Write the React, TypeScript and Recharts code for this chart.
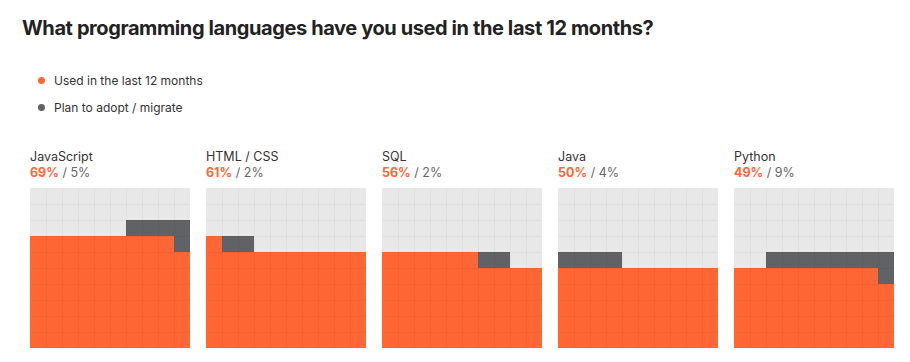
import React from 'react';
import { ScatterChart, Scatter, XAxis, YAxis } from 'recharts';

const title = 'What programming languages have you used in the last 12 months?';
const languages = ['JavaScript', 'HTML / CSS', 'SQL', 'Java', 'Python'];
const usedPct = [69, 61, 56, 50, 49];
const planPct = [5, 2, 2, 4, 9];
const legendLabels = ['Used in the last 12 months', 'Plan to adopt / migrate'];

const ORANGE = '#ff6633';
const DARK = '#616266';
const EMPTY = '#e8e8e8';
const FONT = 'Inter, "Noto Sans", sans-serif';

const PANEL = 160;
const CELL = PANEL / 10;

type Pt = { x: number; y: number; row: number; col: number };

function buildCells(used: number, plan: number) {
  const grid: string[] = new Array(100).fill('empty');
  for (let i = 0; i < used; i++) grid[i] = 'used';
  let g = plan;
  const r = Math.floor(used / 10);
  let c = used % 10;
  while (g > 0 && c < 10) {
    grid[r * 10 + c] = 'plan';
    c++;
    g--;
  }
  if (g > 0) {
    for (let k = 10 - g; k < 10; k++) grid[(r + 1) * 10 + k] = 'plan';
  }
  const out: Record<string, Pt[]> = { used: [], plan: [], empty: [] };
  grid.forEach((kind, i) => {
    const row = Math.floor(i / 10);
    const col = i % 10;
    out[kind].push({ x: col + 0.5, y: row + 0.5, row, col });
  });
  return out;
}

const makeShape = (fill: string) => (props: any) => {
  const { cx, cy, payload } = props;
  if (cx == null || cy == null) return <g />;
  const h = CELL / 2;
  return (
    <g>
      <rect x={cx - h} y={cy - h} width={CELL} height={CELL} fill={fill} />
      {payload.col > 0 && <rect x={cx - h} y={cy - h} width={1} height={CELL} fill="rgba(0,0,0,0.03)" />}
      {payload.row < 9 && <rect x={cx - h} y={cy - h} width={CELL} height={1} fill="rgba(0,0,0,0.03)" />}
    </g>
  );
};

function Waffle({ used, plan }: { used: number; plan: number }) {
  const cells = buildCells(used, plan);
  return (
    <ScatterChart width={PANEL} height={PANEL} margin={{ top: 0, right: 0, bottom: 0, left: 0 }}>
      <XAxis type="number" dataKey="x" domain={[0, 10]} hide />
      <YAxis type="number" dataKey="y" domain={[0, 10]} hide />
      <Scatter data={cells.empty} shape={makeShape(EMPTY)} isAnimationActive={false} />
      <Scatter data={cells.used} shape={makeShape(ORANGE)} isAnimationActive={false} />
      <Scatter data={cells.plan} shape={makeShape(DARK)} isAnimationActive={false} />
    </ScatterChart>
  );
}

export default function App() {
  return (
    <div style={{ position: 'absolute', left: 0, top: 0, width: 910, height: 362, background: '#fff', fontFamily: FONT }}>
      <div
        style={{
          position: 'absolute', left: 22, top: 14, fontSize: 20, fontWeight: 700, color: '#222',
          lineHeight: '28px', whiteSpace: 'nowrap', letterSpacing: -0.4,
        }}
      >
        {title}
      </div>
      {legendLabels.map((l, i) => (
        <div key={l} style={{ position: 'absolute', left: 38, top: 72 + i * 27, height: 16, display: 'flex', alignItems: 'center', whiteSpace: 'nowrap' }}>
          <span style={{ width: 7, height: 7, borderRadius: '50%', background: i === 0 ? ORANGE : DARK, display: 'inline-block' }} />
          <span style={{ marginLeft: 9, fontSize: 12, color: '#333' }}>{l}</span>
        </div>
      ))}
      {languages.map((lang, i) => (
        <div key={lang} style={{ position: 'absolute', left: 30 + i * 176, top: 149 }}>
          <div style={{ fontSize: 12.5, lineHeight: '16px', color: '#333', whiteSpace: 'nowrap' }}>{lang}</div>
          <div style={{ fontSize: 12.5, lineHeight: '16px', whiteSpace: 'nowrap' }}>
            <span style={{ color: ORANGE, fontWeight: 700 }}>{usedPct[i]}%</span>
            <span style={{ color: '#666' }}> / {planPct[i]}%</span>
          </div>
          <div style={{ position: 'absolute', left: 0, top: 39 }}>
            <Waffle used={usedPct[i]} plan={planPct[i]} />
          </div>
        </div>
      ))}
    </div>
  );
}
